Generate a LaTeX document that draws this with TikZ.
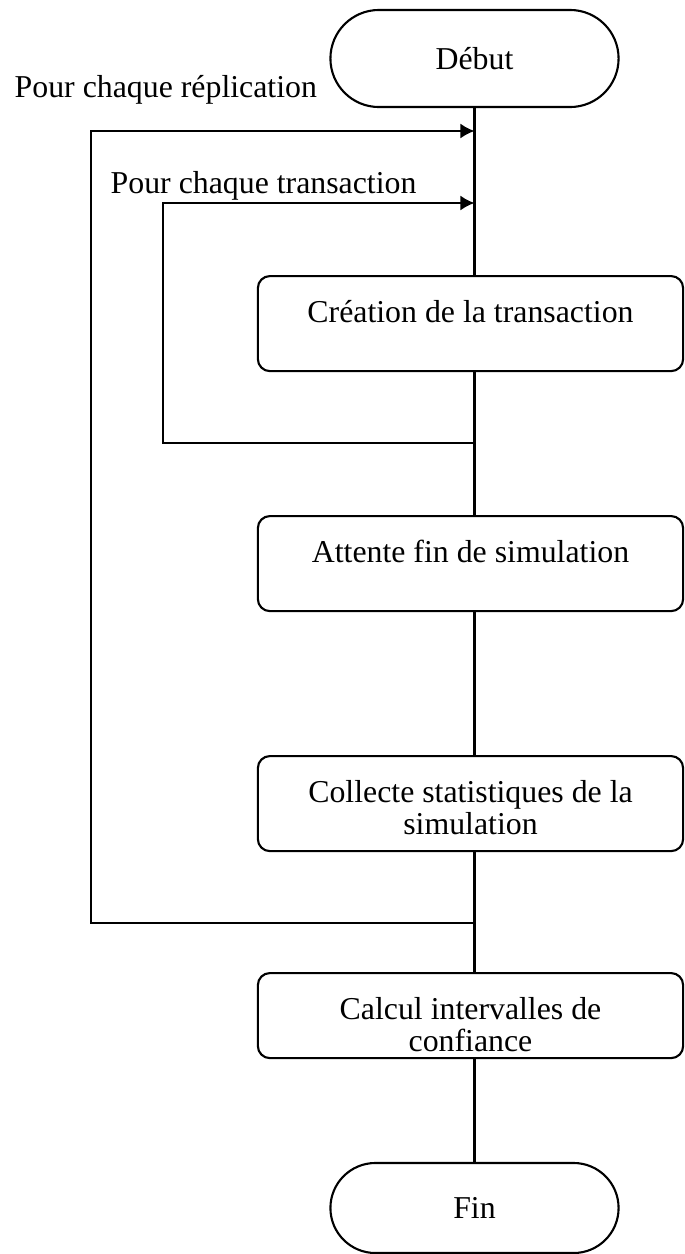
\documentclass[tikz,border=0pt]{standalone}
\usepackage{fontspec}
\setmainfont{Liberation Serif}
\usetikzlibrary{arrows.meta,shapes.misc}

\tikzset{
  txt/.style={font=\fontsize{9.05pt}{9pt}\selectfont},
  terminal/.style={txt,draw=black,line width=0.6pt,rounded rectangle,
    minimum width=2.88cm,inner sep=0pt},
  procbox/.style={txt,draw=black,line width=0.6pt,rounded corners=0.12cm,
    minimum width=4.25cm,inner ysep=0pt,anchor=north,align=center,
    text height=0.46cm,text depth=0.49cm},
  twoline/.style={text height=0.78cm,text depth=0.17cm},
  flow/.style={line width=0.6pt},
  loopback/.style={flow,-{Latex[length=0.14cm,width=0.15cm]}}
}

\begin{document}
\begin{tikzpicture}[x=0.01cm,y=-0.01cm]
    \useasboundingbox (0,0) rectangle (684,1254);

    \node[terminal,minimum height=0.97cm] (debut) at (474.5,58.5) {Début};

    \node[procbox] (creation) at (470.5,275) {Création de la transaction};
    \node[procbox] (attente) at (470.5,515) {Attente fin de simulation};
    \node[procbox,twoline] (collecte) at (470.5,755) {Collecte statistiques de la\\simulation};
    \node[procbox,twoline,text depth=0.07cm] (calcul) at (470.5,972) {Calcul intervalles de\\confiance};

    \node[terminal,minimum height=0.90cm] (fin) at (474.5,1208) {Fin};

    % main axis
    \foreach \a/\b in {debut/creation,creation/attente,attente/collecte,collecte/calcul,calcul/fin} {
      \draw[flow] (debut.south |- \a.south) -- (debut.south |- \b.north);
    }

    % loops
    \coordinate (rep) at (474.5,131);
    \coordinate (tra) at (474.5,203);
    \coordinate (repleft) at (91,131);
    \coordinate (traleft) at (163,203);
    \coordinate (traback) at (474.5,443);
    \coordinate (repback) at (474.5,923);

    \draw[loopback] (traback) -| (traleft) -- (tra);
    \draw[loopback] (repback) -| (repleft) -- (rep);

    \node[txt,inner sep=0pt,anchor=base west] (replabel) at (14,97) {Pour chaque réplication};
    \node[txt,inner sep=0pt,anchor=base west] (tralabel) at (110,193) {Pour chaque transaction};
  \end{tikzpicture}
\end{document}
